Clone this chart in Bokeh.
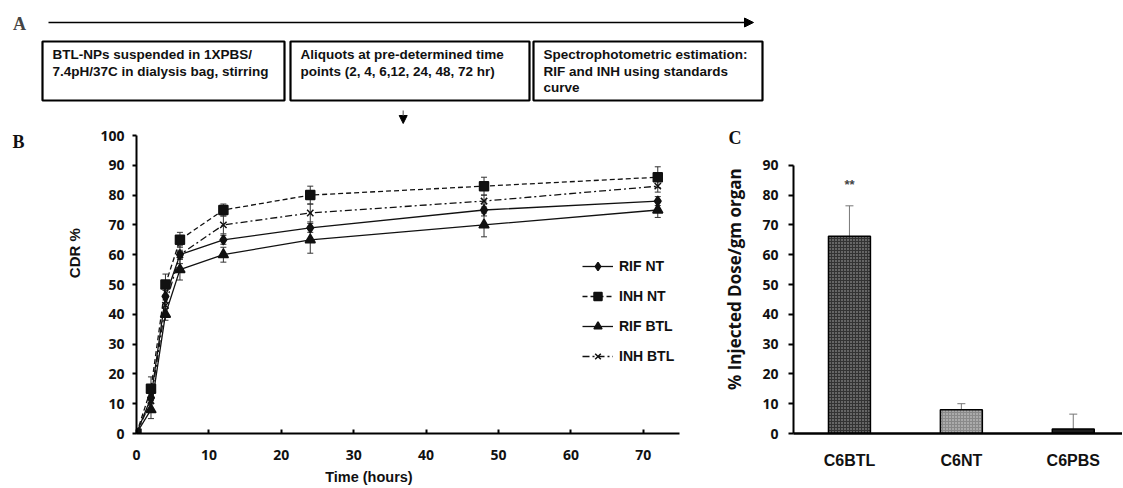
import math
from bokeh.plotting import figure
from bokeh.models import (Range1d, Arrow, NormalHead, Label, Whisker, TeeHead, LinearAxis,
                          ColumnDataSource, Legend, LegendItem, FixedTicker)
from bokeh.layouts import column, row
from bokeh.core.properties import value
from bokeh.embed import file_html
from bokeh.resources import INLINE

# ---------------- data ----------------
time_h = [0, 2, 4, 6, 12, 24, 48, 72]
rif_nt = [0, 12, 46, 60, 65, 69, 75, 78]
inh_nt = [0, 15, 50, 65, 75, 80, 83, 86]
rif_btl = [0, 8, 40, 55, 60, 65, 70, 75]
inh_btl = [0, 11, 43, 60, 70, 74, 78, 83]
rif_nt_err = [0, 2, 2, 1.5, 1.5, 1.5, 2, 1.5]
inh_nt_err = [0, 4, 3.5, 2.5, 2, 3, 3, 3.5]
rif_btl_err = [0, 3, 2, 3.5, 2.5, 4.5, 4, 2.5]
inh_btl_err = [0, 3, 3, 3, 3, 3, 2, 2]
series_names = ["RIF NT", "INH NT", "RIF BTL", "INH BTL"]

organ_groups = ["C6BTL", "C6NT", "C6PBS"]
organ_dose = [66.2, 8.0, 1.5]
organ_err = [10.2, 2.0, 5.0]

steps = [["BTL-NPs suspended in 1XPBS/", "7.4pH/37C in dialysis bag, stirring"],
         ["Aliquots at pre-determined time", "points (2, 4, 6,12, 24, 48, 72 hr)"],
         ["Spectrophotometric estimation:", "RIF and INH  using standards", "curve"]]

SANS = "Liberation Sans"
TICKF = "Open Sans"
SERIF = "Liberation Serif"


def text_axis(p, side, pos, text, font, size, style="bold", orient="horizontal", standoff=0):
    ax = LinearAxis(ticker=FixedTicker(ticks=[pos]), major_label_overrides={pos: text},
                    axis_line_color=None, major_tick_line_color=None, minor_tick_line_color=None,
                    major_tick_in=0, major_tick_out=0, major_label_standoff=standoff,
                    major_label_text_font=font, major_label_text_font_size=size,
                    major_label_text_font_style=style, major_label_orientation=orient,
                    major_label_text_color="#111")
    p.add_layout(ax, side)
    return ax


TOP_H = 124
ROW_H = 487 - TOP_H
B_W = 708

# ---------------- panel A ----------------
pA = figure(width=1122, height=TOP_H, x_range=Range1d(0, 1122), y_range=Range1d(TOP_H, 0),
            x_axis_type=None, y_axis_type=None, output_backend="svg", toolbar_location=None,
            min_border=0)
pA.grid.visible = False
pA.outline_line_color = None
box_l = [42, 290, 533]
box_r = [284, 529, 762]
pA.quad(left=box_l, right=box_r, top=[41] * 3, bottom=[100] * 3,
        fill_color=None, line_color="black", line_width=2.2)
tx, ty, tt = [], [], []
for i, lines in enumerate(steps):
    for j, s in enumerate(lines):
        tx.append(box_l[i] + 10)
        ty.append(54 + j * 16.5)
        tt.append(s)
pA.text(x=tx, y=ty, text=tt, text_font=value(SANS), text_font_style="bold",
        text_font_size="13.5px", text_baseline="middle", text_align="left", text_color="#111")
pA.add_layout(Arrow(end=NormalHead(size=9, fill_color="black", line_color="black"),
                    x_start=48, y_start=22, x_end=753, y_end=22, line_width=1.3, line_color="black"))
pA.add_layout(Arrow(end=NormalHead(size=8, fill_color="black", line_color="black"),
                    x_start=402.7, y_start=110, x_end=402.7, y_end=TOP_H - 1,
                    line_color="#777", line_width=1.3))
pA.add_layout(Label(x=19, y=23, text="A", text_font=SERIF, text_font_style="bold",
                    text_font_size="18px", text_align="center", text_baseline="middle"))

# ---------------- panel B ----------------
pB = figure(width=B_W, height=ROW_H, x_range=Range1d(0, 75), y_range=Range1d(0, 100),
            output_backend="svg", toolbar_location=None,
            min_border_left=136, min_border_right=B_W - 679, min_border_top=135 - TOP_H,
            min_border_bottom=51)
pB.grid.visible = False
pB.outline_line_color = None
for ax in (pB.xaxis[0], pB.yaxis[0]):
    ax.axis_line_width = 2
    ax.axis_line_color = "black"
    ax.major_tick_line_width = 2
    ax.minor_tick_line_color = None
    ax.major_label_text_font = TICKF
    ax.major_label_text_font_style = "bold"
    ax.major_label_text_font_size = "14px"
    ax.major_label_text_color = "#111"
pB.xaxis.ticker = FixedTicker(ticks=[0, 10, 20, 30, 40, 50, 60, 70])
pB.yaxis.ticker = FixedTicker(ticks=list(range(0, 101, 10)))
pB.xaxis.major_tick_in = 4
pB.xaxis.major_tick_out = 0
pB.xaxis.major_label_standoff = 16
pB.yaxis.major_tick_in = 0
pB.yaxis.major_tick_out = 4
pB.yaxis.major_label_standoff = 8

vals = [rif_nt, inh_nt, rif_btl, inh_btl]
errs = [rif_nt_err, inh_nt_err, rif_btl_err, inh_btl_err]
dashes = ["solid", "5 3", "solid", "7 3 2 3"]
markers = ["diamond", "square", "triangle", "x"]
msizes = [10, 9, 10, 9]
items = []
for name, v, e, d, m, ms in zip(series_names, vals, errs, dashes, markers, msizes):
    src = ColumnDataSource(dict(t=time_h, y=v))
    lr = pB.line("t", "y", source=src, line_color="#111", line_width=1.3, line_dash=d)
    sr = pB.scatter("t", "y", source=src, marker=m, size=ms, fill_color="#111",
                    line_color="#111", line_width=1.5)
    et = [t for t, ee in zip(time_h, e) if ee > 0]
    eu = [yy + ee for yy, ee in zip(v, e) if ee > 0]
    el = [yy - ee for yy, ee in zip(v, e) if ee > 0]
    wsrc = ColumnDataSource(dict(t=et, up=eu, lo=el))
    pB.add_layout(Whisker(source=wsrc, base="t", upper="up", lower="lo",
                          line_color="#333", line_width=1,
                          upper_head=TeeHead(size=6, line_color="#333", line_width=1),
                          lower_head=TeeHead(size=6, line_color="#333", line_width=1)))
    items.append(LegendItem(label=name, renderers=[lr, sr]))

leg = Legend(items=items, location=(446, 67), margin=0, padding=0, spacing=10,
             glyph_width=31, glyph_height=20, label_height=20, label_standoff=6,
             label_text_font=SANS, label_text_font_size="14px", label_text_font_style="bold",
             label_text_color="#111",
             border_line_color=None, background_fill_color="white", background_fill_alpha=1)
pB.add_layout(leg)

# texts placed through extra (invisible) axes so that they sit outside the plot frame
text_axis(pB, "below", 32.1, "Time (hours)", SANS, "14.5px", standoff=6)
text_axis(pB, "left", 68.9, "CDR %", SANS, "15px", orient=math.pi / 2, standoff=23)
text_axis(pB, "left", 97.7, "B", SERIF, "18px", standoff=30)

# ---------------- panel C ----------------
C_W = 1122 - B_W
pC = figure(width=C_W, height=ROW_H, x_range=Range1d(0.5, 3.44), y_range=Range1d(0, 100),
            output_backend="svg", toolbar_location=None,
            min_border_left=793 - B_W, min_border_right=0, min_border_top=135 - TOP_H,
            min_border_bottom=51)
pC.grid.visible = False
pC.outline_line_color = None
xpos = [i + 1 for i in range(len(organ_groups))]
csrc = ColumnDataSource(dict(x=xpos, top=organ_dose,
                             fill=["#333333", "#8a8a8a", "#1e1e1e"],
                             hatch=["#b0b0b0", "#dcdcdc", "#1e1e1e"]))
pC.vbar(x="x", top="top", width=0.375, source=csrc, fill_color="fill", line_color="black",
        line_width=1.5, hatch_pattern="dot", hatch_color="hatch", hatch_scale=3, hatch_weight=1)
wc = ColumnDataSource(dict(x=xpos, lo=organ_dose, up=[a + b for a, b in zip(organ_dose, organ_err)]))
pC.add_layout(Whisker(source=wc, base="x", upper="up", lower="lo", line_color="#777", line_width=1,
                      upper_head=TeeHead(size=8, line_color="#777", line_width=1), lower_head=None))
for ax in (pC.xaxis[0], pC.yaxis[0]):
    ax.axis_line_color = "black"
    ax.minor_tick_line_color = None
    ax.major_label_text_font_style = "bold"
    ax.major_label_text_color = "#111"
pC.yaxis.axis_line_width = 2
pC.yaxis.major_tick_line_width = 2
pC.yaxis.major_tick_in = 0
pC.yaxis.major_tick_out = 5
pC.yaxis.major_label_standoff = 10
pC.yaxis.major_label_text_font = TICKF
pC.yaxis.major_label_text_font_size = "14px"
pC.yaxis.ticker = FixedTicker(ticks=list(range(0, 91, 10)))
pC.yaxis.bounds = (0, 90)
pC.xaxis.axis_line_width = 2.5
pC.xaxis.major_tick_line_color = None
pC.xaxis.ticker = FixedTicker(ticks=xpos)
pC.xaxis.major_label_overrides = {x: g for x, g in zip(xpos, organ_groups)}
pC.xaxis.major_label_text_font = SANS
pC.xaxis.major_label_text_font_size = "16px"
pC.xaxis.major_label_standoff = 12

text_axis(pC, "left", 89.0, "% Injected Dose/gm organ", TICKF, "17px",
          orient=math.pi / 2, standoff=25)
text_axis(pC, "left", 99.3, "C", SERIF, "18px", standoff=-33)
pC.add_layout(Label(x=1, y=83.7, text="**", text_font=SANS, text_font_style="bold",
                    text_font_size="13px", text_align="center", text_baseline="middle"))

layout = column(pA, row(pB, pC))
open("out.html", "w").write(file_html(layout, INLINE))
